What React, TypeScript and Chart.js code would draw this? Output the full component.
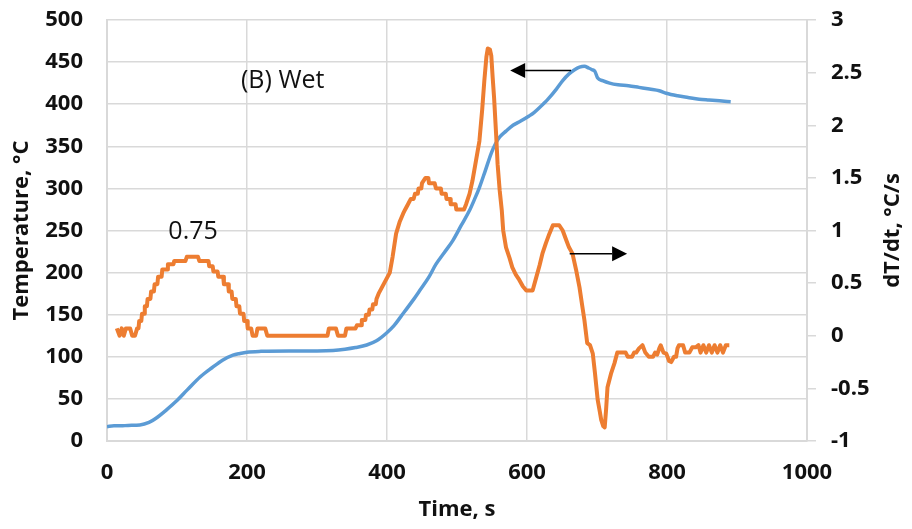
import React, { useEffect, useRef } from "react";
import { Chart, registerables } from "chart.js";

Chart.register(...registerables);

// Furnace temperature (left axis) against time
const tempTime = [0, 10, 20, 30, 47, 60, 70, 85, 100, 115, 133, 150, 165, 180, 190, 200, 220, 260, 300, 323, 340, 355, 371, 385, 399, 410, 420, 437, 447, 460, 470, 482, 494, 506, 518, 525, 532, 540, 549, 555, 561, 570, 580, 591, 603, 610, 618, 630, 642, 651, 660, 668, 675, 682, 688, 693, 697, 701, 708, 718, 730, 745, 760, 775, 789, 799, 815, 830, 846, 860, 875, 891];
const tempValues = [17, 18, 18, 18.5, 19, 22, 27, 37, 48, 61, 76, 87, 96, 102, 104, 105.5, 106.5, 107, 107, 107.5, 109, 111, 114, 119, 128, 137, 148, 167, 179, 195, 210, 224, 238, 256, 274, 287, 301, 320, 342, 353, 361, 368, 375, 380, 386, 390, 396, 406, 418, 428, 436, 441, 444, 445, 443, 441, 439, 431, 428, 425, 423, 422, 420, 418, 416, 413, 410, 408, 406, 405, 404, 403];

// Heating rate dT/dt (right axis) against time
const rateTime = [
  14, 18, 21, 24, 27, 33, 36, 40, 43, 45, 46, 49, 50, 53, 54, 57, 58, 62, 63, 67, 68, 72, 73, 78, 79, 86, 87, 95, 96, 112,
  114, 130, 132, 145, 146, 151, 152, 158, 159, 166, 167, 173, 174, 178, 179, 184, 185, 189, 190, 195, 196, 200, 201, 206,
  208, 213, 215, 226, 229, 315, 317, 327, 330, 340, 342, 355, 357, 363, 364, 369, 370, 374, 375, 379, 380, 384, 385, 388,
  392, 396, 400, 404, 408, 413, 418, 423, 426, 430, 434, 438, 440, 444, 445, 449, 450, 455, 459, 460, 468, 470, 477, 478,
  484, 485, 490, 491, 498, 499, 510, 513, 518, 522, 527, 532, 536, 539, 542, 544, 547, 549, 551, 553, 556, 558, 561, 564,
  566, 570, 575, 579, 584, 589, 594, 599, 608, 613, 618, 622, 627, 632, 637, 646, 651, 656, 660, 665, 670, 675, 679, 682,
  686, 690, 694, 697, 701, 704, 706, 709, 711, 713, 715, 720, 725, 729, 741, 744, 750, 753, 756, 760, 765, 769, 774, 780,
  783, 786, 789, 791, 795, 799, 803, 806, 810, 813, 815, 817, 823, 826, 832, 836, 841, 845, 848, 852, 856, 860, 864, 868,
  872, 876, 880, 884, 889,
];
const rateValues = [
  0.07, 0.0, 0.07, 0.0, 0.07, 0.07, 0.0, 0.0, 0.07, 0.07, 0.14, 0.14, 0.21, 0.21, 0.28, 0.28, 0.35, 0.35, 0.42, 0.42, 0.49, 0.49, 0.56, 0.56, 0.63, 0.63, 0.68, 0.68, 0.71, 0.71,
  0.75, 0.75, 0.71, 0.71, 0.66, 0.66, 0.61, 0.61, 0.56, 0.56, 0.49, 0.49, 0.42, 0.42, 0.35, 0.35, 0.28, 0.28, 0.21, 0.21, 0.14, 0.14, 0.07, 0.07,
  0.0, 0.0, 0.07, 0.07, 0.0, 0.0, 0.07, 0.07, 0.0, 0.0, 0.07, 0.07, 0.1, 0.1, 0.15, 0.15, 0.2, 0.2, 0.25, 0.25, 0.3, 0.3, 0.35, 0.4,
  0.45, 0.5, 0.55, 0.6, 0.75, 0.97, 1.08, 1.16, 1.2, 1.25, 1.3, 1.3, 1.35, 1.35, 1.4, 1.4, 1.45, 1.5, 1.5, 1.45, 1.45, 1.4, 1.4, 1.35,
  1.35, 1.3, 1.3, 1.25, 1.25, 1.2, 1.2, 1.25, 1.35, 1.47, 1.66, 1.85, 2.15, 2.42, 2.65, 2.73, 2.72, 2.66, 2.45, 2.26, 1.9, 1.63, 1.38, 1.19,
  1.0, 0.84, 0.74, 0.65, 0.58, 0.53, 0.47, 0.43, 0.43, 0.55, 0.67, 0.78, 0.88, 0.97, 1.05, 1.05, 1.0, 0.91, 0.84, 0.78, 0.63, 0.46, 0.28, 0.15,
  -0.07, -0.09, -0.17, -0.35, -0.61, -0.72, -0.8, -0.86, -0.87, -0.7, -0.49, -0.36, -0.26, -0.16, -0.16, -0.2, -0.2, -0.16, -0.16, -0.12, -0.09, -0.16, -0.2, -0.2,
  -0.16, -0.18, -0.12, -0.09, -0.16, -0.17, -0.24, -0.25, -0.2, -0.2, -0.12, -0.09, -0.09, -0.16, -0.16, -0.11, -0.11, -0.09, -0.16, -0.09, -0.16, -0.09, -0.16, -0.09,
  -0.16, -0.09, -0.16, -0.09, -0.09,
];

// Axis ranges
const timeRange = [0, 1000, 200];
const tempRange = [0, 500, 50];
const rateRange = [-1, 3, 0.5];

// Axis titles
const timeTitle = "Time, s";
const tempTitle = "Temperature, °C";
const rateTitle = "dT/dt, °C/s";

// Notes placed on the plot (time, value)
const panelLabel = "(B) Wet";
const panelLabelAt = [251, 428];
const peakLabel = "0.75";
const peakLabelAt = [123, 0.99];
// Arrows: [tailTime, tipTime, value]
const tempArrow = [663, 576, 440];
const rateArrow = [661, 743, 0.78];

const FONT = "'Open Sans', 'DejaVu Sans', sans-serif";
const BLUE = "#5B9BD5";
const ORANGE = "#ED7D31";
const GRID = "#d9d9d9";
const TEXT = "#111111";

function arrow(ctx: CanvasRenderingContext2D, x1: number, x2: number, y: number) {
  const dir = Math.sign(x2 - x1);
  const headLen = 15;
  const headHalf = 7.5;
  ctx.save();
  ctx.strokeStyle = "#000";
  ctx.fillStyle = "#000";
  ctx.lineWidth = 1.5;
  ctx.beginPath();
  ctx.moveTo(x1, y);
  ctx.lineTo(x2 - dir * headLen, y);
  ctx.stroke();
  ctx.beginPath();
  ctx.moveTo(x2, y);
  ctx.lineTo(x2 - dir * headLen, y - headHalf);
  ctx.lineTo(x2 - dir * headLen, y + headHalf);
  ctx.closePath();
  ctx.fill();
  ctx.restore();
}

const notesPlugin = {
  id: "notes",
  afterDatasetsDraw(chart: any) {
    const { ctx } = chart;
    const x = chart.scales.x;
    const yT = chart.scales.yTemp;
    const yR = chart.scales.yRate;
    ctx.save();
    ctx.fillStyle = TEXT;
    ctx.textAlign = "center";
    ctx.textBaseline = "middle";
    ctx.font = `400 25px ${FONT}`;
    ctx.fillText(panelLabel, x.getPixelForValue(panelLabelAt[0]), yT.getPixelForValue(panelLabelAt[1]));
    ctx.fillText(peakLabel, x.getPixelForValue(peakLabelAt[0]), yR.getPixelForValue(peakLabelAt[1]));
    ctx.restore();
    arrow(ctx, x.getPixelForValue(tempArrow[0]), x.getPixelForValue(tempArrow[1]), yT.getPixelForValue(tempArrow[2]));
    arrow(ctx, x.getPixelForValue(rateArrow[0]), x.getPixelForValue(rateArrow[1]), yR.getPixelForValue(rateArrow[2]));
  },
  afterDraw(chart: any) {
    const { ctx, chartArea } = chart;
    const midY = (chartArea.top + chartArea.bottom) / 2;
    ctx.save();
    ctx.fillStyle = TEXT;
    ctx.font = `700 22px ${FONT}`;
    ctx.textAlign = "center";
    ctx.textBaseline = "middle";
    ctx.fillText(timeTitle, (chartArea.left + chartArea.right) / 2, 510);
    ctx.save();
    ctx.translate(22, midY);
    ctx.rotate(-Math.PI / 2);
    ctx.fillText(tempTitle, 0, 0);
    ctx.restore();
    ctx.save();
    ctx.translate(893, midY);
    ctx.rotate(-Math.PI / 2);
    ctx.fillText(rateTitle, 0, 0);
    ctx.restore();
    ctx.restore();
  },
};

const plain = (v: number | string) => String(v);

export default function App() {
  const ref = useRef<HTMLCanvasElement | null>(null);

  useEffect(() => {
    if (!ref.current) return;
    const tickFont = { family: FONT, size: 22, weight: "bold" as const };
    const chart = new Chart(ref.current, {
      type: "line",
      data: {
        datasets: [
          {
            label: "dT/dt",
            data: rateTime.map((t, i) => ({ x: t, y: rateValues[i] })),
            yAxisID: "yRate",
            borderColor: ORANGE,
            borderWidth: 4,
            borderJoinStyle: "round",
            pointRadius: 0,
            tension: 0,
            order: 0,
          },
          {
            label: "Temperature",
            data: tempTime.map((t, i) => ({ x: t, y: tempValues[i] })),
            yAxisID: "yTemp",
            borderColor: BLUE,
            borderWidth: 3.5,
            pointRadius: 0,
            cubicInterpolationMode: "monotone",
            order: 1,
          },
        ],
      },
      options: {
        animation: false,
        responsive: false,
        layout: { padding: { top: 20, left: 0, right: 0, bottom: 0 } },
        plugins: { legend: { display: false }, tooltip: { enabled: false } },
        scales: {
          x: {
            type: "linear",
            min: timeRange[0],
            max: timeRange[1],
            ticks: { stepSize: timeRange[2], font: tickFont, color: TEXT, padding: 19, callback: plain },
            grid: { color: GRID, lineWidth: 1.5, drawTicks: false },
            border: { color: GRID, width: 2 },
            afterFit: (s: any) => { s.height = 88; s.paddingLeft = 0; s.paddingRight = 0; },
          },
          yTemp: {
            type: "linear",
            position: "left",
            min: tempRange[0],
            max: tempRange[1],
            ticks: { stepSize: tempRange[2], font: tickFont, color: TEXT, padding: 24, callback: plain },
            grid: { color: GRID, lineWidth: 1.5, drawTicks: false },
            border: { color: GRID, width: 2 },
            afterFit: (s: any) => { s.width = 107; s.paddingTop = 0; s.paddingBottom = 0; },
          },
          yRate: {
            type: "linear",
            position: "right",
            min: rateRange[0],
            max: rateRange[1],
            ticks: { stepSize: rateRange[2], font: tickFont, color: TEXT, padding: 15, callback: plain },
            grid: { color: GRID, lineWidth: 1.5, drawOnChartArea: false, drawTicks: true, tickLength: 9 },
            border: { color: GRID, width: 2 },
            afterFit: (s: any) => { s.width = 105; s.paddingTop = 0; s.paddingBottom = 0; },
          },
        },
      },
      plugins: [notesPlugin],
    });
    return () => chart.destroy();
  }, []);

  return (
    <div style={{ position: "absolute", left: 0, top: 0, width: 912, height: 529, background: "#fff" }}>
      <canvas ref={ref} width={912} height={529} style={{ display: "block" }} />
    </div>
  );
}
